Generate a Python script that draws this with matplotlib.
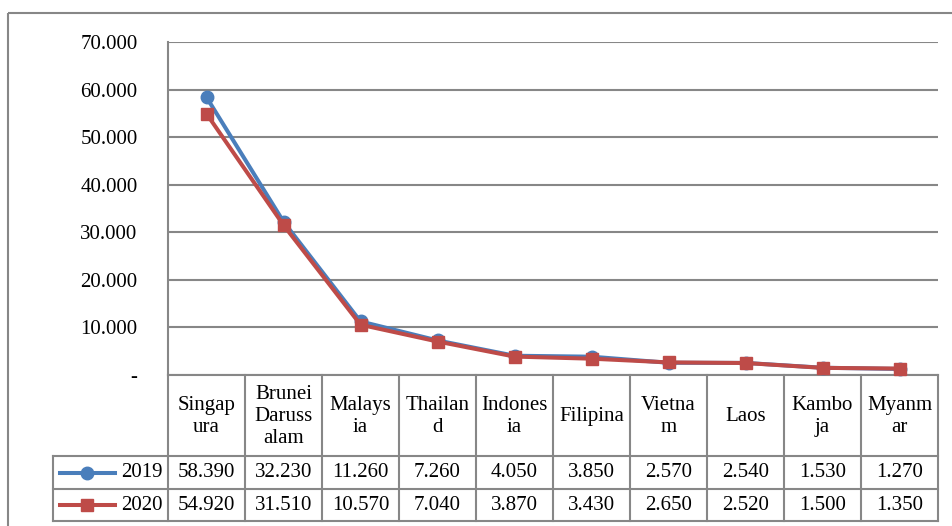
import matplotlib
matplotlib.use("Agg")
import matplotlib.pyplot as plt
from matplotlib import transforms
from matplotlib.patches import Rectangle
from matplotlib.ticker import FuncFormatter

# Data
countries = ["Singap\nura", "Brunei\nDaruss\nalam", "Malays\nia", "Thailan\nd",
             "Indones\nia", "Filipina", "Vietna\nm", "Laos", "Kambo\nja", "Myanm\nar"]
series_names = ["2019", "2020"]
values_2019 = [58390, 32230, 11260, 7260, 4050, 3850, 2570, 2540, 1530, 1270]
values_2020 = [54920, 31510, 10570, 7040, 3870, 3430, 2650, 2520, 1500, 1350]
y_ticks = [0, 10000, 20000, 30000, 40000, 50000, 60000, 70000]

# Styling
BLUE = "#4A7EBB"
RED = "#BE4B48"
GRID = "#878787"
FS = 15
LW_GRID = 1.5

W, H = 953, 526
plt.rcParams['font.family'] = ['Liberation Serif', 'DejaVu Serif']

fig = plt.figure(figsize=(W / 100, H / 100), dpi=100)

# Overlay in pixel units for the data table and chart frame
ov = fig.add_axes([0, 0, 1, 1])
ov.set_xlim(0, W)
ov.set_ylim(H, 0)
ov.axis("off")

ax = fig.add_axes([168 / W, 1 - 375 / H, 770 / W, 333 / H])
ax.patch.set_alpha(0)


def thousands(v):
    return f"{v:,.0f}".replace(",", ".")


n = len(countries)
xs = [i + 0.5 for i in range(n)]
series = [(series_names[0], values_2019, BLUE, "o"),
          (series_names[1], values_2020, RED, "s")]

for name, vals, col, mk in series:
    ax.plot(xs, vals, color=col, lw=2.9, marker=mk, markersize=9,
            markeredgecolor=col, markerfacecolor=col, clip_on=False, zorder=3)

ax.set_xlim(0, n)
ax.set_ylim(0, 70000)
ax.set_yticks(y_ticks)
ax.yaxis.set_major_formatter(FuncFormatter(lambda v, p: "-" if v == 0 else thousands(v)))
ax.tick_params(axis="y", length=0, pad=22, labelsize=FS)
ax.set_xticks([])
ax.yaxis.grid(True, color=GRID, lw=LW_GRID)
ax.set_axisbelow(True)
for s in ("top", "right"):
    ax.spines[s].set_visible(False)
for s in ("left", "bottom"):
    ax.spines[s].set_color(GRID)
    ax.spines[s].set_linewidth(LW_GRID)

# Data table below the plot
tr = transforms.blended_transform_factory(ax.transData, ov.transData)
y_top, y_hdr, y_r1, y_r2 = 375, 456, 489, 521
leg_left = 53.5
ax_right = 938

for b in range(n + 1):
    ov.plot([b, b], [y_top, y_r2], color=GRID, lw=LW_GRID, transform=tr, clip_on=False)
for yy in (y_hdr, y_r1, y_r2):
    ov.plot([leg_left, ax_right], [yy, yy], color=GRID, lw=LW_GRID, clip_on=False)
ov.plot([leg_left, leg_left], [y_hdr, y_r2], color=GRID, lw=LW_GRID, clip_on=False)

for x, lab in zip(xs, countries):
    ov.text(x, (y_top + y_hdr) / 2 + 1, lab, transform=tr, ha="center", va="center",
            fontsize=FS, linespacing=1.22)

rows_y = [(y_hdr + y_r1) / 2, (y_r1 + y_r2) / 2]
for (name, vals, col, mk), ry in zip(series, rows_y):
    ov.plot([60, 87.5, 115], [ry, ry, ry], color=col, lw=2.9, marker=mk,
            markersize=9, markevery=[1], markeredgecolor=col, markerfacecolor=col)
    ov.text(163, ry, name, ha="right", va="center", fontsize=FS)
    for x, v in zip(xs, vals):
        ov.text(x, ry, thousands(v), transform=tr, ha="center", va="center", fontsize=FS)

# Chart frame
ov.add_patch(Rectangle((8.5, 12.5), W + 20, H + 20, fill=False, edgecolor=GRID, lw=LW_GRID))

fig.savefig("out.png", dpi=100)
